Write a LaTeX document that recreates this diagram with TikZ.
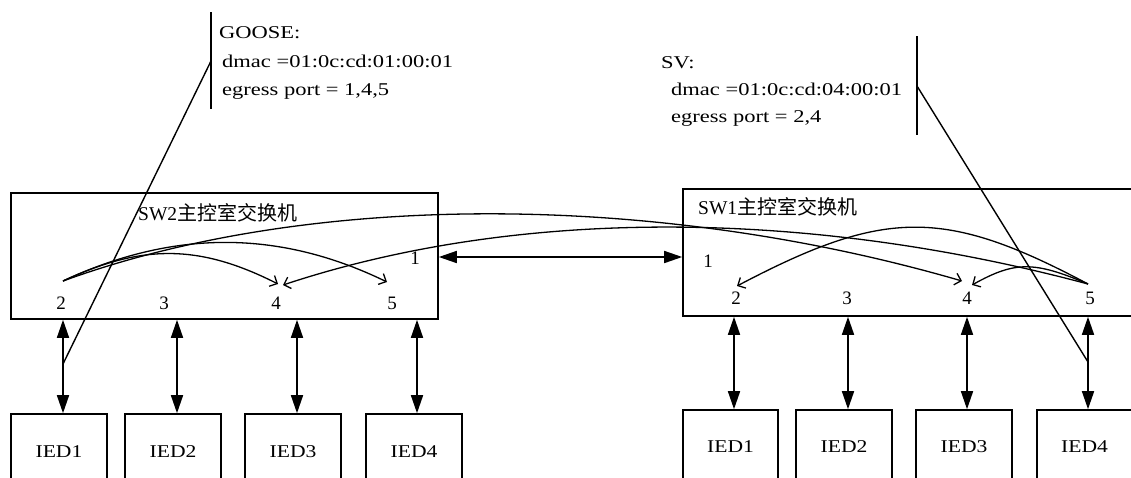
\documentclass[tikz,border=0pt]{standalone}
\usepackage{fontspec}
\setmainfont{Liberation Serif}
\newfontfamily\annfont{Liberation Serif}[FakeStretch=1.25]
\newfontfamily\iedfont{Liberation Serif}[FakeStretch=1.2]
\newfontfamily\cjk{Noto Sans CJK SC}
\usetikzlibrary{arrows.meta}
\begin{document}
\begin{tikzpicture}[x=1pt,y=-1pt,
  swbox/.style={draw, line width=1.6pt, inner sep=0pt},
  iedbox/.style={draw, line width=1.6pt, inner sep=0pt, minimum height=76pt,
    font=\iedfont\fontsize{18}{20}\selectfont},
  portlbl/.style={inner sep=0pt, font=\fontsize{19}{21}\selectfont},
  titlelbl/.style={inner sep=0pt, anchor=west, font=\fontsize{19.5}{22}\selectfont},
  link/.style={line width=1.6pt, {Triangle[length=18pt,width=12pt]}-{Triangle[length=18pt,width=12pt]}},
  flow/.style={line width=1.3pt, -{Straight Barb[length=6pt,width=12pt]}},
  callout/.style={line width=1.4pt},
  anntext/.style={inner sep=0pt, anchor=north west, align=left,
    font=\annfont\fontsize{18}{28.5}\selectfont},
  anntextsv/.style={inner sep=0pt, anchor=north west, align=left,
    font=\annfont\fontsize{18}{27}\selectfont}
]
\useasboundingbox[fill=white] (0,0) rectangle (1131,477);

% switches
\node[swbox, minimum width=427pt, minimum height=126pt] (SW2) at (224.5,256) {};
\node[swbox, minimum width=457pt, minimum height=127pt] (SW1) at (911.5,252.5) {};
\node[titlelbl] (t2) at (138,213) {SW2{\cjk\fontsize{20}{22}\selectfont 主控室交换机}};
\node[titlelbl] (t1) at (698,207) {SW1{\cjk\fontsize{20}{22}\selectfont 主控室交换机}};

% port labels
\node[portlbl] (pL1) at (415,258) {1};
\node[portlbl] (pL2) at (61,303) {2};
\node[portlbl] (pL3) at (164,303) {3};
\node[portlbl] (pL4) at (276,303) {4};
\node[portlbl] (pL5) at (392,303) {5};
\node[portlbl] (pR1) at (708,261) {1};
\node[portlbl] (pR2) at (736,298) {2};
\node[portlbl] (pR3) at (847,298) {3};
\node[portlbl] (pR4) at (967,298) {4};
\node[portlbl] (pR5) at (1090,298) {5};

% IEDs
\node[iedbox, minimum width=96pt] (IL1) at (59,452) {IED1};
\node[iedbox, minimum width=96pt] (IL2) at (173,452) {IED2};
\node[iedbox, minimum width=96pt] (IL3) at (293,452) {IED3};
\node[iedbox, minimum width=96pt] (IL4) at (414,452) {IED4};
\node[iedbox, minimum width=95pt, minimum height=74pt] (IR1) at (730.5,447) {IED1};
\node[iedbox, minimum width=96pt, minimum height=74pt] (IR2) at (844,447) {IED2};
\node[iedbox, minimum width=96pt, minimum height=74pt] (IR3) at (964,447) {IED3};
\node[iedbox, minimum width=95pt, minimum height=74pt] (IR4) at (1084.5,447) {IED4};

% links
\coordinate (aL1) at (63,0);
\coordinate (aL2) at (177,0);
\coordinate (aL3) at (297,0);
\coordinate (aL4) at (417,0);
\coordinate (aR1) at (734,0);
\coordinate (aR2) at (848,0);
\coordinate (aR3) at (967,0);
\coordinate (aR4) at (1088,0);
\draw[link] (aL1 |- SW2.south) -- (aL1 |- IL1.north);
\draw[link] (aL2 |- SW2.south) -- (aL2 |- IL2.north);
\draw[link] (aL3 |- SW2.south) -- (aL3 |- IL3.north);
\draw[link] (aL4 |- SW2.south) -- (aL4 |- IL4.north);
\draw[link] (aR1 |- SW1.south) -- (aR1 |- IR1.north);
\draw[link] (aR2 |- SW1.south) -- (aR2 |- IR2.north);
\draw[link] (aR3 |- SW1.south) -- (aR3 |- IR3.north);
\draw[link] (aR4 |- SW1.south) -- (aR4 |- IR4.north);
\coordinate (trunk) at (560,257);
\draw[link] (SW2.east |- trunk) -- (SW1.west |- trunk);

% forwarding paths
\coordinate (fL2) at (63,281);
\coordinate (fL4a) at (278,284);
\coordinate (fL4b) at (283,285);
\coordinate (fL5) at (387,282);
\coordinate (fR5) at (1088,284);
\coordinate (fR2) at (737,286);
\coordinate (fR4a) at (962,281);
\coordinate (fR4b) at (972,285);
\draw[flow] (fL2) .. controls +(79,-37) and +(-79,-40) .. (fL4a);
\draw[flow] (fL2) .. controls +(109,-51) and +(-109,-53) .. (fL5);
\draw[flow] (fL2) .. controls +(244,-89) and +(-310,-90) .. (fR4a);
\draw[flow] (fR5) .. controls +(-284,-76) and +(232,-77) .. (fL4b);
\draw[flow] (fR5) .. controls +(-143,-76) and +(148,-78) .. (fR2);
\draw[flow] (fR5) .. controls +(-54,-23) and +(43,-24) .. (fR4b);

% GOOSE annotation
\coordinate (gT) at (211,12);
\coordinate (gB) at (211,109);
\coordinate (gK) at (211,61);
\coordinate (gE) at (63,364);
\draw[callout] (gT) -- (gB);
\draw[callout] (gK) -- (gE);
\node[anntext] (goose) at (219,26.5) {GOOSE:\\\hspace*{3pt}dmac =01:0c:cd:01:00:01\\\hspace*{3pt}egress port = 1,4,5};

% SV annotation
\coordinate (sT) at (917,36);
\coordinate (sB) at (917,135);
\coordinate (sK) at (917,86);
\coordinate (sE) at (1088,362);
\draw[callout] (sT) -- (sB);
\draw[callout] (sK) -- (sE);
\node[anntextsv] (sv) at (661,56.5) {SV:\\\hspace*{10pt}dmac =01:0c:cd:04:00:01\\\hspace*{10pt}egress port = 2,4};
\end{tikzpicture}
\end{document}
